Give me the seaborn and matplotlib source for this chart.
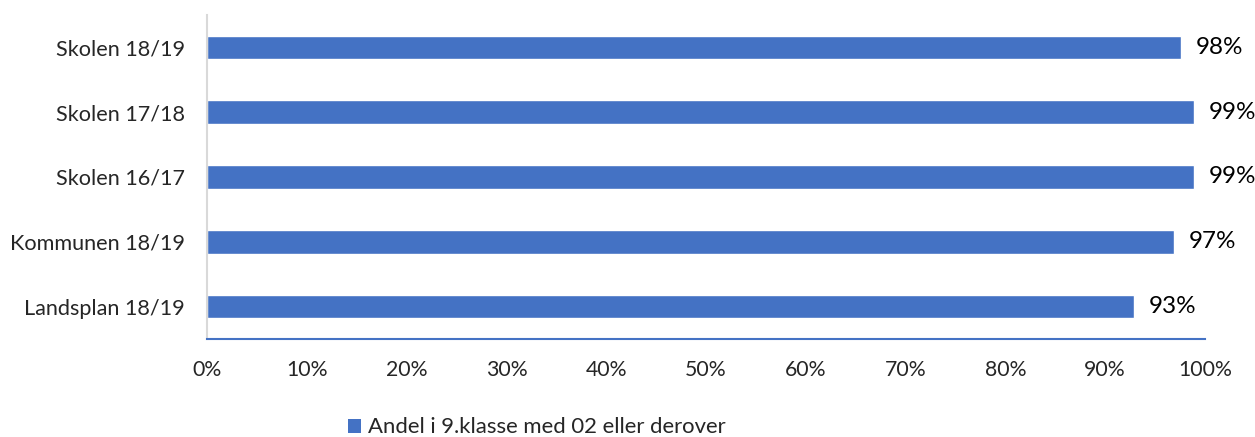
import matplotlib
matplotlib.use("Agg")
import matplotlib.pyplot as plt
from matplotlib.patches import Patch
import seaborn as sns
import pandas as pd

# data
categories = ["Skolen 18/19", "Skolen 17/18", "Skolen 16/17", "Kommunen 18/19", "Landsplan 18/19"]
values = [97.6, 98.9, 98.9, 96.9, 92.9]
bar_labels = ["98%", "99%", "99%", "97%", "93%"]
x_ticks = [0, 10, 20, 30, 40, 50, 60, 70, 80, 90, 100]
series_name = "Andel i 9.klasse med 02 eller derover"

BLUE = "#4472C4"

sns.set_theme(style="white")
plt.rcParams["font.family"] = ["Lato", "DejaVu Sans"]

df = pd.DataFrame({"kategori": categories, "andel": values})

fig = plt.figure(figsize=(12.55, 4.37), dpi=100)
ax = fig.add_axes([0.165, 0.224, 0.795, 0.742])

sns.barplot(data=df, x="andel", y="kategori", color=BLUE, width=0.36,
            saturation=1, ax=ax, orient="h")

ax.bar_label(ax.containers[0], labels=bar_labels, padding=11, fontsize=17.5, color="black")

ax.set_xlim(0, 100)
ax.set_ylim(4.5, -0.5)
ax.set_xticks(x_ticks)
ax.set_xticklabels([f"{t}%" for t in x_ticks], fontsize=15.3)
ax.tick_params(axis="x", length=0, pad=15)
ax.tick_params(axis="y", length=0, pad=16, labelsize=15.6)
ax.set_xlabel("")
ax.set_ylabel("")

for side in ["top", "right"]:
    ax.spines[side].set_visible(False)
ax.spines["left"].set_color("#D9D9D9")
ax.spines["left"].set_linewidth(1.5)
ax.spines["bottom"].set_color(BLUE)
ax.spines["bottom"].set_linewidth(1.5)

handle = Patch(facecolor=BLUE, edgecolor="none", label=series_name)
fig.legend(handles=[handle], loc="center", bbox_to_anchor=(0.4275, 0.022),
           frameon=False, fontsize=15.9, handlelength=0.6, handleheight=0.6,
           handletextpad=0.3)

fig.savefig("out.png", dpi=100)
